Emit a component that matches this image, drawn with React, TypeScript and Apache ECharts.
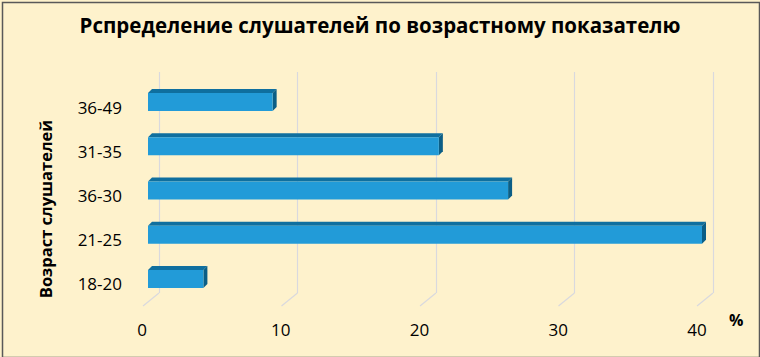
import React, { useEffect, useRef } from "react";
import * as echarts from "echarts";

const categories = ["18-20", "21-25", "36-30", "31-35", "36-49"];
const values = [4, 40, 26, 21, 9];
const xTicks = [0, 10, 20, 30, 40];
const titleText = "Рспределение слушателей по возрастному показателю";
const yTitle = "Возраст слушателей";
const unitText = "%";

const FONT = "'Open Sans', 'Noto Sans', sans-serif";

export default function App() {
  const ref = useRef<HTMLDivElement>(null);
  useEffect(() => {
    if (!ref.current) return;
    const chart = echarts.init(ref.current, null, { renderer: "svg" });
    const option: any = {
      animation: false,
      backgroundColor: "#FEF2CC",
      textStyle: { fontFamily: FONT },
      title: {
        text: titleText,
        left: "center",
        top: 9,
        textStyle: { fontFamily: FONT, fontSize: 20.5, fontWeight: "bold", color: "#000" },
      },
      grid: [
        { left: 159, right: 47, top: 72, bottom: 64 },
        { left: 142, right: 63, top: 85, bottom: 52 },
      ],
      xAxis: [
        {
          gridIndex: 0, type: "value", min: 0, max: 40, interval: 10,
          axisLabel: { show: false }, axisLine: { show: false }, axisTick: { show: false },
          splitLine: { show: true, lineStyle: { color: "#D9D9DE", width: 1.2 } },
        },
        {
          gridIndex: 1, type: "value", min: 0, max: 40, interval: 10,
          axisLabel: { show: true, fontSize: 17, color: "#000", margin: 16, fontFamily: FONT },
          axisLine: { show: false }, axisTick: { show: false }, splitLine: { show: false },
        },
      ],
      yAxis: [
        {
          gridIndex: 0, type: "category", data: categories,
          axisLabel: { show: false }, axisLine: { show: false }, axisTick: { show: false },
          splitLine: { show: false },
        },
        {
          gridIndex: 1, type: "category", data: categories,
          axisLabel: { show: true, fontSize: 17, color: "#000", margin: 20, fontFamily: FONT },
          axisLine: { show: false }, axisTick: { show: false }, splitLine: { show: false },
        },
      ],
      series: [
        {
          type: "custom",
          xAxisIndex: 0, yAxisIndex: 0,
          data: xTicks.map((t) => [t]),
          renderItem: (params: any, api: any) => {
            const cs = params.coordSys;
            const p = api.coord([api.value(0), 0]);
            const yb = cs.y + cs.height;
            return {
              type: "line",
              shape: { x1: p[0], y1: yb, x2: p[0] - 16, y2: yb + 13 },
              style: { stroke: "#D9D9DE", lineWidth: 1.2 },
              silent: true,
            };
          },
        },
        {
          type: "custom",
          xAxisIndex: 0, yAxisIndex: 0,
          data: values.map((v, i) => [v, i]),
          renderItem: (params: any, api: any) => {
            const s = api.coord([0, api.value(1)]);
            const e = api.coord([api.value(0), api.value(1)]);
            const dx = -11, dy = 8;
            const h = 18, d = 4;
            const x0 = s[0] + dx, x1 = e[0] + dx;
            const yc = s[1] + dy;
            const yt = yc - h / 2, ybm = yc + h / 2;
            return {
              type: "group",
              children: [
                {
                  type: "polygon",
                  shape: { points: [[x0, yt], [x0 + d, yt - d], [x1 + d, yt - d], [x1, yt]] },
                  style: { fill: "#0F6F9F" },
                },
                {
                  type: "polygon",
                  shape: { points: [[x1, yt], [x1 + d, yt - d], [x1 + d, ybm - d], [x1, ybm]] },
                  style: { fill: "#0B5E86" },
                },
                {
                  type: "rect",
                  shape: { x: x0, y: yt, width: x1 - x0, height: h },
                  style: { fill: "#229BD8" },
                },
              ],
            };
          },
        },
      ],
      graphic: [
        {
          type: "text",
          x: 45, y: 209, rotation: Math.PI / 2,
          style: {
            text: yTitle, fontSize: 16.5, fontWeight: "bold", fill: "#000", fontFamily: FONT,
            align: "center", verticalAlign: "middle",
          },
        },
        {
          type: "text",
          left: 729, top: 312,
          style: { text: unitText, fontSize: 16, fontWeight: "bold", fill: "#000", fontFamily: FONT },
        },
        {
          type: "rect",
          left: 0, top: 0,
          shape: { x: 0, y: 0, width: 757, height: 355 },
          style: { fill: "none", stroke: "#595959", lineWidth: 1.5 },
          silent: true,
        },
      ],
    };
    chart.setOption(option);
    return () => chart.dispose();
  }, []);
  return (
    <div
      ref={ref}
      style={{ position: "fixed", left: 0, top: 0, width: 760, height: 357 }}
    />
  );
}
